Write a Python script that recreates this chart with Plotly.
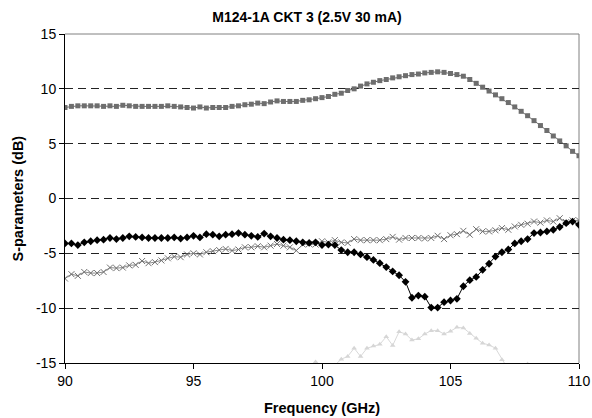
import plotly.graph_objects as go

freq = [90 + 0.25 * i for i in range(81)]

s_gain = [8.3, 8.4, 8.45, 8.45, 8.45, 8.45, 8.4, 8.45, 8.4, 8.5,
          8.45, 8.4, 8.4, 8.4, 8.4, 8.4, 8.45, 8.4, 8.35, 8.3,
          8.25, 8.35, 8.25, 8.3, 8.3, 8.3, 8.4, 8.45, 8.55, 8.6,
          8.7, 8.65, 8.8, 8.9, 8.85, 8.85, 8.85, 8.95, 9.0, 9.1,
          9.2, 9.3, 9.5, 9.6, 9.85, 10.0, 10.25, 10.45, 10.6, 10.75,
          10.85, 11.0, 11.1, 11.2, 11.3, 11.35, 11.45, 11.5, 11.55, 11.5,
          11.4, 11.3, 11.15, 10.85, 10.5, 10.15, 9.8, 9.45, 9.1, 8.75,
          8.35, 7.95, 7.55, 7.1, 6.65, 6.2, 5.7, 5.25, 4.8, 4.3, 3.9]

s_input = [-4.1, -4.1, -4.25, -4.0, -3.9, -3.8, -3.75, -3.6, -3.7, -3.6,
           -3.45, -3.5, -3.55, -3.6, -3.6, -3.6, -3.6, -3.55, -3.65, -3.55,
           -3.4, -3.55, -3.25, -3.3, -3.45, -3.3, -3.25, -3.15, -3.3, -3.4,
           -3.5, -3.2, -3.45, -3.6, -3.75, -3.8, -3.9, -4.0, -4.05, -4.0,
           -4.25, -4.2, -4.25, -4.7, -4.9, -4.9, -5.1, -5.35, -5.6, -5.9,
           -6.25, -6.65, -7.0, -7.6, -9.05, -8.85, -8.95, -9.95, -9.95, -9.45,
           -9.3, -9.15, -8.0, -7.45, -7.15, -6.5, -5.95, -5.3, -4.9, -4.65,
           -4.1, -3.9, -3.7, -3.15, -3.1, -3.0, -2.85, -2.6, -2.25, -2.1, -2.4]

s_output = [-7.3, -6.9, -7.05, -6.7, -6.8, -6.8, -6.7, -6.3, -6.35, -6.3,
            -6.1, -6.05, -5.7, -5.9, -5.8, -5.65, -5.45, -5.3, -5.35, -5.1,
            -5.0, -5.1, -4.9, -4.8, -4.7, -4.6, -4.75, -4.65, -4.45, -4.45,
            -4.35, -4.45, -4.3, -4.15, -4.3, -4.45, -4.75, -4.2, -4.15, -4.2,
            -3.9, -4.0, -3.8, -4.0, -4.05, -3.7, -3.8, -3.8, -3.8, -3.8,
            -3.7, -3.5, -3.75, -3.6, -3.6, -3.6, -3.65, -3.6, -3.4, -3.7,
            -3.35, -3.25, -2.95, -3.3, -2.8, -3.0, -3.0, -2.9, -2.7, -2.85,
            -2.55, -2.4, -2.3, -2.1, -2.2, -2.0, -2.1, -1.8, -2.15, -2.0, -2.0]

s_reverse = [-22.0, -21.5, -21.8, -21.0, -20.6, -20.9, -20.2, -20.0, -19.6, -19.9,
             -19.2, -19.0, -18.8, -18.9, -18.5, -18.2, -18.4, -18.0, -17.8, -17.9,
             -17.5, -17.3, -17.4, -17.0, -16.9, -17.1, -16.6, -16.4, -16.5, -16.2,
             -16.0, -16.1, -15.9, -15.8, -15.9, -15.6, -15.7, -15.5, -15.4, -14.9,
             -15.3, -15.4, -15.2, -14.65, -14.4, -13.65, -14.4, -13.65, -13.45, -13.3,
             -12.6, -13.4, -12.15, -12.35, -12.9, -12.8, -12.35, -12.05, -12.05, -12.35,
             -12.1, -11.75, -11.8, -12.3, -12.75, -13.2, -13.35, -13.65, -14.7, -15.6,
             -15.8, -15.4, -15.1, -15.5, -15.9, -16.3, -16.6, -17.0, -17.4, -17.8, -18.2]

x_ticks = [90, 95, 100, 105, 110]
y_ticks = [-15, -10, -5, 0, 5, 10, 15]

FONT = "Liberation Sans, Arial, sans-serif"

fig = go.Figure()
fig.add_trace(go.Scatter(x=freq, y=s_gain, mode="lines+markers",
                         line=dict(color="#6e6e6e", width=1),
                         marker=dict(symbol="square", size=5, color="#6e6e6e")))
fig.add_trace(go.Scatter(x=freq, y=s_output, mode="lines+markers",
                         line=dict(color="#8a8a8a", width=1),
                         marker=dict(symbol="x-thin", size=6,
                                     line=dict(color="#707070", width=1))))
fig.add_trace(go.Scatter(x=freq, y=s_input, mode="lines+markers",
                         line=dict(color="#000000", width=1),
                         marker=dict(symbol="diamond", size=6, color="#000000")))
fig.add_trace(go.Scatter(x=freq, y=s_reverse, mode="lines+markers",
                         line=dict(color="#d9d9d9", width=1),
                         marker=dict(symbol="triangle-up", size=5, color="#d6d6d6")))

fig.update_layout(
    width=592, height=418,
    margin=dict(l=65, r=13, t=34, b=55, autoexpand=False),
    paper_bgcolor="white", plot_bgcolor="white",
    showlegend=False,
    font=dict(family=FONT, size=14, color="black"),
    title=dict(text="<b>M124-1A CKT 3 (2.5V 30 mA)</b>", x=307/592, xanchor="center",
               y=1 - 17/418, yanchor="middle", font=dict(size=14, family=FONT)),
    xaxis=dict(range=[90, 110], tickvals=x_ticks, ticktext=[str(v) for v in x_ticks],
               showgrid=False, zeroline=False, showline=True, linecolor="black",
               linewidth=1, ticks="outside", ticklen=5, tickcolor="black",
               tickfont=dict(size=14), automargin=False),
    yaxis=dict(range=[-15, 15], tickvals=y_ticks, ticktext=[str(v) for v in y_ticks],
               showgrid=True, gridcolor="#222222", gridwidth=1, griddash="8px,5px",
               zeroline=False, showline=True, linecolor="black", linewidth=1,
               ticks="outside", ticklen=5, tickcolor="black", tickfont=dict(size=14),
               automargin=False),
    shapes=[
        dict(type="line", xref="paper", yref="paper", x0=0, x1=1, y0=1, y1=1,
             line=dict(color="#808080", width=1), layer="between"),
        dict(type="line", xref="paper", yref="paper", x0=1, x1=1, y0=0, y1=1,
             line=dict(color="#808080", width=1), layer="between"),
    ],
    annotations=[
        dict(text="<b>Frequency (GHz)</b>", xref="paper", yref="paper",
             x=0.5, y=-(408 - 363) / 329, xanchor="center", yanchor="middle",
             showarrow=False, font=dict(size=14.5)),
        dict(text="<b>S-parameters (dB)</b>", xref="paper", yref="paper",
             x=(17 - 65) / 514, y=0.5, xanchor="center", yanchor="middle",
             textangle=-90, showarrow=False, font=dict(size=14.5)),
    ],
)

fig.write_html("out.html", config={"displayModeBar": False},
               post_script="document.body.style.margin='0';document.body.style.overflow='hidden';")
